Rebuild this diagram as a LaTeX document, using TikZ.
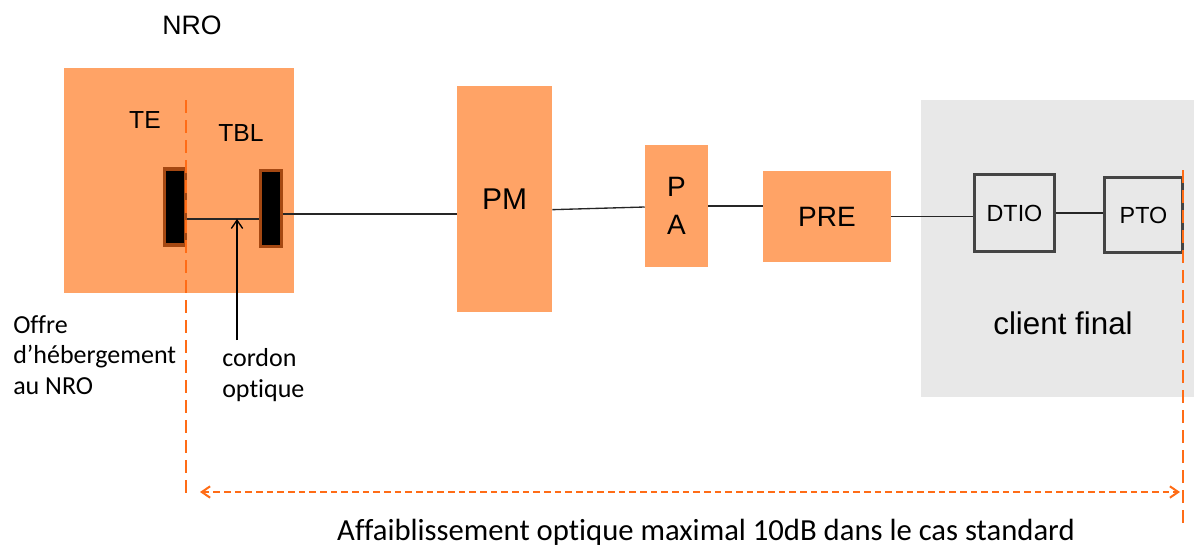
\documentclass[tikz,border=0pt]{standalone}
\usepackage{fontspec}
\setmainfont{Liberation Sans}
\newfontfamily\calibrifont[Ligatures=NoCommon]{Carlito}
\usepackage{tikz}
\usetikzlibrary{arrows.meta, positioning, calc}
\definecolor{nrocolor}{RGB}{255, 163, 102}
\definecolor{plugcolor}{RGB}{165, 72, 18}
\definecolor{limitcolor}{RGB}{255, 108, 22}
\definecolor{clientcolor}{RGB}{232, 232, 232}
\definecolor{framecolor}{RGB}{68, 68, 68}

\begin{document}
\begin{tikzpicture}[
    x=0.75pt, y=-0.75pt,
    >={Straight Barb[length=2.2mm, width=3mm]},
    box/.style={rectangle, fill=nrocolor, inner sep=0pt, align=center},
    plug/.style={rectangle, fill=black, draw=plugcolor, line width=2.6pt, inner sep=0pt, minimum width=15.5pt, minimum height=57pt},
    clientbox/.style={rectangle, draw=framecolor, line width=2pt, inner sep=0pt, font=\fontsize{17.5}{20}\selectfont},
    fibre/.style={line width=1pt, black!85},
    limit/.style={limitcolor, line width=2.2pt, dash pattern=on 10pt off 5pt},
    note/.style={font=\calibrifont\fontsize{19.5}{22.8}\selectfont, align=left, inner sep=0pt}
]
\useasboundingbox (0,0) rectangle (1194,546);

% ========== NRO ==========
\node[box, minimum width=172.5pt, minimum height=168.75pt] (nro) at (179,180.5) {};
\node[font=\fontsize{20}{24}\selectfont] (nrolabel) at (192,25) {NRO};
\node[font=\fontsize{18.5}{22}\selectfont] (te) at (145,120) {TE};
\node[font=\fontsize{18.5}{22}\selectfont] (tbl) at (241,133) {TBL};

\node[plug] (teplug) at (175,207) {};
\node[plug] (tblplug) at (271,208.5) {};

% ========== NETWORK ==========
\node[box, minimum width=71.25pt, minimum height=169.5pt, font=\fontsize{22.5}{26}\selectfont] (pm) at (504.5,199) {PM};
\node[box, minimum width=47.25pt, minimum height=91.5pt, font=\fontsize{21}{28.5}\selectfont] (pa) at (676.5,206) {P\\A};
\node[box, minimum width=96pt, minimum height=68.25pt, font=\fontsize{21}{25}\selectfont] (pre) at (827,216.5) {PRE};

% ========== CLIENT ==========
\node[rectangle, fill=clientcolor, inner sep=0pt, minimum width=204.75pt, minimum height=222.75pt] (client) at (1057.5,248.5) {};
\node[font=\fontsize{23.5}{27}\selectfont] (clientlabel) at (1063,323) {client final};
\node[clientbox, minimum width=60.4pt, minimum height=58.1pt] (dtio) at (1014.5,213) {DTIO};
\node[clientbox, minimum width=58.9pt, minimum height=56.6pt] (pto) at (1143.5,215) {PTO};

% ========== FIBRES ==========
\coordinate (patchstart) at ([yshift=-9pt]teplug.east);
\draw[fibre] (patchstart) -- (patchstart -| tblplug.west);
\draw[fibre] ([yshift=-4pt]tblplug.east) -- ([yshift=-4pt]tblplug.east -| pm.west);
\draw[fibre] ([yshift=-8pt]pm.east) -- ([yshift=-0.75pt]pa.west);
\draw[fibre] (pa.east) -- (pa.east -| pre.west);
\draw[fibre] (pre.east) -- (pre.east -| dtio.west);
\draw[fibre] (dtio.east) -- (dtio.east -| pto.west);

% ========== LABELS ==========
\node[note, anchor=west] (offre) at (13,355) {Offre\\d’hébergement\\au NRO};
\node[note, anchor=west] (cordon) at (222,375) {cordon\\optique};
\coordinate (cordontail) at (237,340);
\draw[->, line width=1pt] (cordontail) -- (cordontail |- patchstart);

% ========== LIMITS ==========
\coordinate (limitAtop) at (186,100);
\coordinate (limitAbot) at (186,497);
\coordinate (limitBtop) at (1183,170);
\coordinate (limitBbot) at (1183,528);
\draw[limit] (limitAtop) -- (limitAbot);
\draw[limit] (limitBtop) -- (limitBbot);

\coordinate (spanL) at (200,492);
\coordinate (spanR) at (1180,492);
\draw[<->, limitcolor, line width=1.5pt, dash pattern=on 5pt off 3pt] (spanL) -- (spanR);
\node[font=\calibrifont\fontsize{23}{27}\selectfont, anchor=base] (loss) at (706,540) {Affaiblissement optique maximal 10dB dans le cas standard};

\end{tikzpicture}
\end{document}
